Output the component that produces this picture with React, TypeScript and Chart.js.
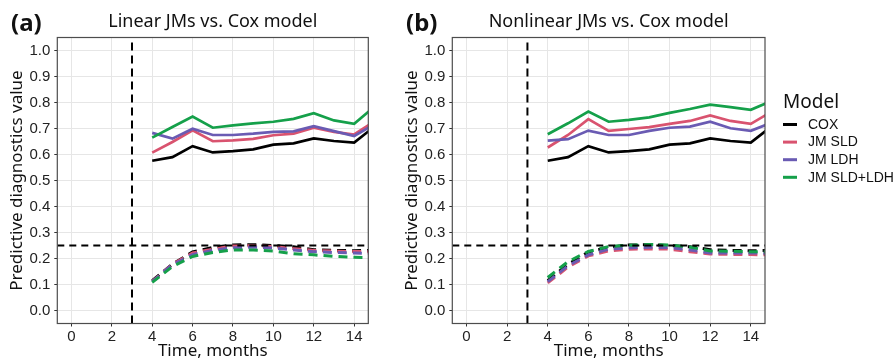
import React, { useEffect, useRef } from "react";
import { Chart, registerables } from "chart.js";

Chart.register(...registerables);

// ---------- data ----------
const months = [4, 5, 6, 7, 8, 9, 10, 11, 12, 13, 14, 15];
const modelNames = ["COX", "JM SLD", "JM LDH", "JM SLD+LDH"];
const modelColors = ["#000000", "#D9536F", "#6A5BB3", "#15A04A"];

// solid (upper) curves
const coxUpper = [0.576, 0.59, 0.632, 0.608, 0.613, 0.62, 0.638, 0.643, 0.662, 0.652, 0.646, 0.707];
const linSldUpper = [0.607, 0.648, 0.693, 0.651, 0.654, 0.66, 0.674, 0.68, 0.703, 0.687, 0.677, 0.727];
const linLdhUpper = [0.683, 0.661, 0.699, 0.675, 0.675, 0.68, 0.687, 0.689, 0.709, 0.69, 0.671, 0.716];
const linBothUpper = [0.665, 0.706, 0.746, 0.703, 0.712, 0.72, 0.726, 0.737, 0.759, 0.731, 0.718, 0.784];
const nlSldUpper = [0.627, 0.675, 0.736, 0.691, 0.698, 0.705, 0.718, 0.729, 0.75, 0.729, 0.718, 0.764];
const nlLdhUpper = [0.653, 0.659, 0.692, 0.675, 0.675, 0.691, 0.703, 0.707, 0.726, 0.701, 0.691, 0.722];
const nlBothUpper = [0.678, 0.72, 0.765, 0.726, 0.733, 0.743, 0.76, 0.775, 0.792, 0.782, 0.772, 0.805];

// dashed (lower) curves
const coxLower = [0.115, 0.178, 0.225, 0.243, 0.252, 0.253, 0.25, 0.245, 0.234, 0.231, 0.23, 0.231];
const linSldLower = [0.112, 0.178, 0.221, 0.236, 0.248, 0.249, 0.246, 0.238, 0.231, 0.228, 0.227, 0.226];
const linLdhLower = [0.111, 0.176, 0.215, 0.231, 0.241, 0.244, 0.24, 0.233, 0.226, 0.223, 0.221, 0.219];
const linBothLower = [0.108, 0.169, 0.208, 0.223, 0.233, 0.233, 0.229, 0.218, 0.214, 0.208, 0.205, 0.203];
const nlSldLower = [0.106, 0.167, 0.21, 0.229, 0.236, 0.237, 0.236, 0.226, 0.217, 0.216, 0.215, 0.214];
const nlLdhLower = [0.111, 0.172, 0.214, 0.236, 0.241, 0.243, 0.242, 0.233, 0.221, 0.221, 0.221, 0.22];
const nlBothLower = [0.127, 0.188, 0.227, 0.246, 0.251, 0.254, 0.252, 0.244, 0.229, 0.228, 0.226, 0.226];

const landmarkTime = 3;
const thresholdValue = 0.25;

const xTicks = [0, 2, 4, 6, 8, 10, 12, 14];
const yTicks = [0, 0.1, 0.2, 0.3, 0.4, 0.5, 0.6, 0.7, 0.8, 0.9, 1.0];
const yTickLabels = ["0.0", "0.1", "0.2", "0.3", "0.4", "0.5", "0.6", "0.7", "0.8", "0.9", "1.0"];
const xRange = [-0.7, 14.7];
const yRange = [-0.05, 1.05];

const panelTitles = ["Linear JMs vs. Cox model", "Nonlinear JMs vs. Cox model"];
const panelTags = ["(a)", "(b)"];
const legendTitle = "Model";
const xTitle = "Time, months";
const yTitle = "Predictive diagnostics value";

// ---------- styling ----------
const SANS = '"Noto Sans", "DejaVu Sans", sans-serif';
const ARIAL = '"Liberation Sans", Arial, sans-serif';

const decorPlugin = {
  id: "decor",
  afterDatasetsDraw(chart: any) {
    const { ctx, chartArea } = chart;
    const { left, top, right, bottom } = chartArea;
    ctx.save();
    ctx.strokeStyle = "#4d4d4d";
    ctx.lineWidth = 1.2;
    ctx.strokeRect(left, top, right - left, bottom - top);
    ctx.restore();
  },
  afterDraw(chart: any, _args: any, opts: any) {
    const { ctx, chartArea } = chart;
    const { left, right } = chartArea;
    ctx.save();
    ctx.fillStyle = "#111";
    ctx.textBaseline = "alphabetic";
    ctx.font = `18px ${SANS}`;
    ctx.textAlign = "center";
    ctx.fillText(opts.title, (left + right) / 2, 27);
    ctx.font = `bold 24px ${SANS}`;
    ctx.textAlign = "left";
    ctx.fillText(opts.tag, 11, 31);
    if (opts.legend) {
      const lx = right + 18;
      ctx.font = `19px ${SANS}`;
      ctx.fillStyle = "#111";
      ctx.fillText(legendTitle, lx, 108);
      ctx.font = `14px ${ARIAL}`;
      ctx.textBaseline = "middle";
      modelNames.forEach((name, i) => {
        const cy = 124.5 + i * 17.6;
        ctx.fillStyle = modelColors[i];
        ctx.fillRect(lx, cy - 1.5, 14, 3);
        ctx.fillStyle = "#111";
        ctx.fillText(name, lx + 25, cy + 0.5);
      });
    }
    ctx.restore();
  },
};

function makeDatasets(upper: number[][], lower: number[][]) {
  const ds: any[] = [];
  ds.push({
    data: [
      { x: xRange[0], y: thresholdValue },
      { x: xRange[1], y: thresholdValue },
    ],
    borderColor: "#000",
    borderWidth: 1.8,
    borderDash: [7, 5],
    pointRadius: 0,
    clip: 0,
    order: 0,
  });
  ds.push({
    data: [
      { x: landmarkTime, y: yRange[0] },
      { x: landmarkTime, y: yRange[1] },
    ],
    borderColor: "#000",
    borderWidth: 2,
    borderDash: [8, 5],
    pointRadius: 0,
    clip: 0,
    order: 0,
  });
  upper.forEach((vals, i) => {
    ds.push({
      label: modelNames[i],
      data: months.map((m, j) => ({ x: m, y: vals[j] })),
      borderColor: modelColors[i],
      borderWidth: 2.7,
      pointRadius: 0,
      tension: 0,
      clip: 0,
      order: 10 - i,
    });
  });
  lower.forEach((vals, i) => {
    ds.push({
      label: modelNames[i] + " (dashed)",
      data: months.map((m, j) => ({ x: m, y: vals[j] })),
      borderColor: modelColors[i],
      borderWidth: 3,
      borderDash: [9, 6],
      pointRadius: 0,
      tension: 0,
      clip: 0,
      order: 10 - i,
    });
  });
  return ds;
}

function makeConfig(idx: number, upper: number[][], lower: number[][], rightPad: number, legend: boolean): any {
  return {
    type: "line",
    data: { datasets: makeDatasets(upper, lower) },
    plugins: [decorPlugin],
    options: {
      animation: false,
      responsive: false,
      devicePixelRatio: 1,
      events: [],
      layout: { padding: { top: 37.5, right: rightPad, bottom: 0, left: 0 } },
      plugins: {
        legend: { display: false },
        tooltip: { enabled: false },
        title: { display: false },
        decor: { title: panelTitles[idx], tag: panelTags[idx], legend },
      },
      scales: {
        x: {
          type: "linear",
          min: xRange[0],
          max: xRange[1],
          afterBuildTicks: (s: any) => {
            s.ticks = xTicks.map((v) => ({ value: v }));
          },
          afterFit: (s: any) => {
            s.height = 38.5;
          },
          ticks: {
            autoSkip: false,
            maxRotation: 0,
            padding: 1,
            color: "#222",
            font: { family: ARIAL, size: 15 },
            callback: (v: any) => String(v),
          },
          grid: { color: "#e6e6e6", lineWidth: 1, tickColor: "#333", tickLength: 3 },
          border: { display: false },
          title: {
            display: true,
            text: xTitle,
            color: "#111",
            font: { family: SANS, size: 17 },
            padding: { top: 0, bottom: 1 },
          },
        },
        y: {
          type: "linear",
          min: yRange[0],
          max: yRange[1],
          afterBuildTicks: (s: any) => {
            s.ticks = yTicks.map((v) => ({ value: v }));
          },
          afterFit: (s: any) => {
            s.width = 57.3;
          },
          ticks: {
            autoSkip: false,
            padding: 4,
            color: "#222",
            font: { family: ARIAL, size: 15 },
            callback: (_v: any, i: number) => yTickLabels[i],
          },
          grid: { color: "#e6e6e6", lineWidth: 1, tickColor: "#333", tickLength: 3 },
          border: { display: false },
          title: {
            display: true,
            text: yTitle,
            color: "#111",
            font: { family: SANS, size: 17 },
            padding: { top: 7, bottom: 0 },
          },
        },
      },
    },
  };
}

function Panel(props: { idx: number; left: number; width: number; rightPad: number; upper: number[][]; lower: number[][]; legend: boolean }) {
  const ref = useRef<HTMLCanvasElement | null>(null);
  useEffect(() => {
    if (!ref.current) return;
    const chart = new Chart(ref.current, makeConfig(props.idx, props.upper, props.lower, props.rightPad, props.legend));
    return () => chart.destroy();
  }, []);
  return (
    <canvas
      ref={ref}
      width={props.width}
      height={362}
      style={{ position: "absolute", left: props.left, top: 0, width: props.width, height: 362 }}
    />
  );
}

export default function App() {
  return (
    <div style={{ position: "fixed", left: 0, top: 0, width: 896, height: 362, background: "#fff", overflow: "hidden" }}>
      <Panel
        idx={0}
        left={0}
        width={400}
        rightPad={31.7}
        upper={[coxUpper, linSldUpper, linLdhUpper, linBothUpper]}
        lower={[coxLower, linSldLower, linLdhLower, linBothLower]}
        legend={false}
      />
      <Panel
        idx={1}
        left={395}
        width={501}
        rightPad={131}
        upper={[coxUpper, nlSldUpper, nlLdhUpper, nlBothUpper]}
        lower={[coxLower, nlSldLower, nlLdhLower, nlBothLower]}
        legend={true}
      />
    </div>
  );
}
